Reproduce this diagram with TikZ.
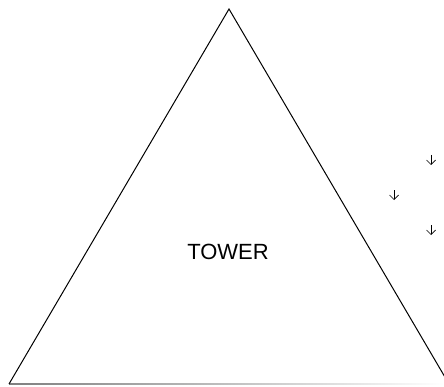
\documentclass[tikz,border=0pt]{standalone}
\usepackage{fontspec}
\setmainfont{Liberation Sans}
\usetikzlibrary{arrows.meta}
\tikzset{
    >=Stealth,
    edge line/.style={line width=1pt},
    drop/.style={line width=0.7pt, -{Straight Barb[length=4.5pt,width=9pt]}}
}
\begin{document}
\begin{tikzpicture}[x=1pt, y=1pt]
    \useasboundingbox (0,0) rectangle (444,386);
    \clip (0,0) rectangle (444,386);

    % Turm
    \coordinate (apex) at (229,377);
    \coordinate (bl)   at (9,2);
    \coordinate (br)   at (449,2);
    \shade[left color=gray, right color=white] (9,1.5) rectangle (444,2.5);
    \draw[edge line] (bl) -- (apex) -- (br);
    \node (tower) at (228,134) {\fontsize{22}{26}\selectfont TOWER};

    % Pfeile
    \coordinate (d1s) at (431,231); \coordinate (d1e) at (431,221);
    \coordinate (d2s) at (394,196); \coordinate (d2e) at (394,186);
    \coordinate (d3s) at (431,161); \coordinate (d3e) at (431,151);
    \draw[drop] (d1s) -- (d1e);
    \draw[drop] (d2s) -- (d2e);
    \draw[drop] (d3s) -- (d3e);
\end{tikzpicture}
\end{document}
